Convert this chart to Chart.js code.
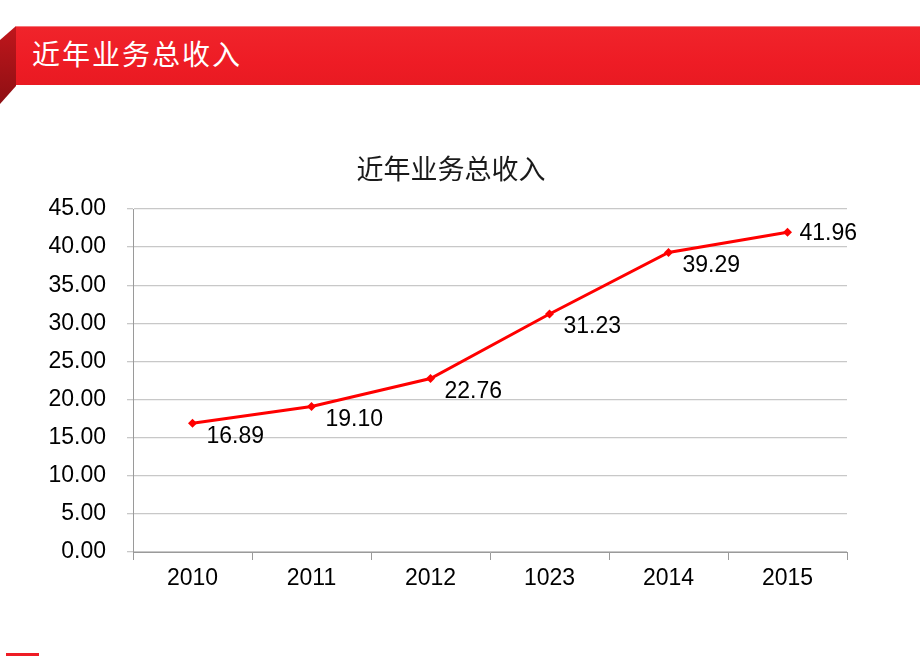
<!DOCTYPE html>
<html>
<head>
<meta charset="utf-8">
<script src="https://cdn.jsdelivr.net/npm/chart.js@4"></script>
<style>
  html, body { margin: 0; padding: 0; background: #fff; }
  body { width: 920px; height: 656px; position: relative; overflow: hidden; }
  #banner {
    position: absolute; left: 16px; top: 26px; width: 904px; height: 59px;
    background: linear-gradient(180deg, #f0242b 0%, #ee1c25 60%, #e91a22 100%);
    border-top: 1px solid #f6777b;
    box-sizing: border-box;
  }
  #banner span {
    position: absolute; left: 16px; top: 8px;
    color: #fff; font-family: "Noto Sans CJK SC", sans-serif; font-size: 28px; line-height: 36px;
    letter-spacing: 2px;
  }
  #fold {
    position: absolute; left: 0; top: 26px; width: 16px; height: 78px;
    background: linear-gradient(180deg, #c0161c 0%, #8e0f13 100%);
    clip-path: polygon(0 18%, 100% 0, 100% 77%, 0 100%);
  }
  #foot { position: absolute; left: 6px; top: 653px; width: 33px; height: 3px; background: #ee1c25; }
  #wrap { position: absolute; left: 0; top: 0; width: 920px; height: 656px; }
</style>
</head>
<body>
<div id="fold"></div>
<div id="banner"><span>近年业务总收入</span></div>
<div id="foot"></div>
<div id="wrap"><canvas id="chart"></canvas></div>
<script>
let chartTitle = "近年业务总收入";
let years = ["2010", "2011", "2012", "1023", "2014", "2015"];
let revenue = [16.89, 19.10, 22.76, 31.23, 39.29, 41.96];
let yTicks = [0, 5, 10, 15, 20, 25, 30, 35, 40, 45];

//label spots next to each point
let labelSide = ["below", "below", "below", "below", "below", "right"];

const numFont = '"Liberation Sans", Arial, sans-serif';

const pointLabels = {
    id: "pointLabels",
    afterDatasetsDraw(chart) {
        let ctx = chart.ctx;
        let meta = chart.getDatasetMeta(0);
        ctx.save();
        ctx.font = "23px " + numFont;
        ctx.fillStyle = "#000";
        ctx.textAlign = "left";
        ctx.textBaseline = "middle";
        meta.data.forEach((pt, i) => {
            let txt = revenue[i].toFixed(2);
            if (labelSide[i] == "right") {
                ctx.fillText(txt, pt.x + 12, pt.y + 1);
            } else {
                ctx.fillText(txt, pt.x + 14, pt.y + 13);
            }
        });
        ctx.restore();
    }
};

//title sits over the middle of the slide, not the plot box
const slideTitle = {
    id: "slideTitle",
    afterDraw(chart) {
        let ctx = chart.ctx;
        ctx.save();
        ctx.font = '27px "Noto Sans CJK SC", sans-serif';
        ctx.fillStyle = "#1a1a1a";
        ctx.textAlign = "center";
        ctx.textBaseline = "middle";
        ctx.fillText(chartTitle, chart.width / 2 - 9, chart.chartArea.top - 40);
        ctx.restore();
    }
};

const ctx = document.getElementById("chart").getContext("2d");

let myChart = new Chart(ctx, {
    type: "line",
    data: {
        labels: years,
        datasets: [{
            label: chartTitle,
            data: revenue,
            borderColor: "#ff0000",
            backgroundColor: "#ff0000",
            borderWidth: 3,
            pointStyle: "rectRot",
            pointRadius: 4.5,
            pointBorderWidth: 0,
            tension: 0
        }]
    },
    options: {
        responsive: true,
        maintainAspectRatio: false,
        animation: false,
        layout: {
            padding: { top: 209, left: 0, right: 73, bottom: 50 }
        },
        plugins: {
            legend: { display: false },
            tooltip: { enabled: false },
            title: { display: false }
        },
        scales: {
            x: {
                offset: true,
                grid: {
                    offset: true,
                    drawOnChartArea: false,
                    tickLength: 8,
                    color: "#9a9a9a"
                },
                border: { color: "#9a9a9a" },
                ticks: {
                    color: "#000",
                    font: { family: numFont, size: 23 },
                    padding: 5
                },
                afterFit(scale) { scale.height = 54; }
            },
            y: {
                min: 0,
                max: 45,
                afterBuildTicks(scale) {
                    scale.ticks = yTicks.map(v => ({ value: v }));
                },
                grid: { color: "#c8c8c8", tickLength: 6, lineWidth: 1.3 },
                border: { color: "#9a9a9a" },
                ticks: {
                    color: "#000",
                    font: { family: numFont, size: 23 },
                    padding: 21,
                    callback: v => Number(v).toFixed(2)
                },
                afterFit(scale) { scale.width = 133; }
            }
        }
    },
    plugins: [pointLabels, slideTitle]
});
</script>
</body>
</html>
